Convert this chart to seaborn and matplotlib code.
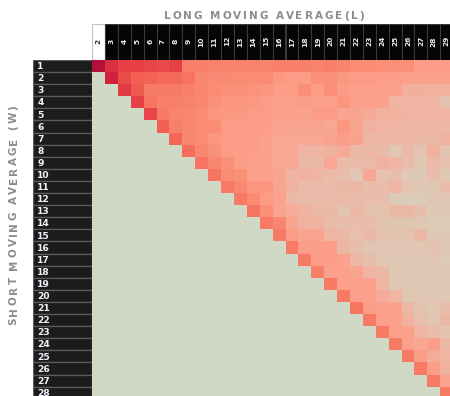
import numpy as np
import pandas as pd
import matplotlib
matplotlib.use("Agg")
import matplotlib.pyplot as plt
import seaborn as sns
from matplotlib.colors import LinearSegmentedColormap
from matplotlib.patches import Rectangle
from matplotlib.font_manager import FontProperties, findfont, get_font
from matplotlib.ft2font import LoadFlags

# Short moving-average window (rows) and long window (columns)
short_windows = list(range(1, 29))
long_windows = list(range(2, 30))

# Score per (W, L) pair, listed for L = W+1 .. 29 on each row
w1 = [99, 85, 80, 80, 78, 76, 80, 58, 58, 57, 57, 56, 57, 56, 58, 58, 58, 57, 58, 56, 52, 52, 51, 51, 51, 46, 46, 46]
w2 = [90, 75, 68, 67, 65, 65, 62, 54, 53, 53, 52, 52, 52, 47, 46, 46, 50, 51, 47, 46, 46, 45, 45, 44, 42, 42, 42]
w3 = [82, 70, 60, 60, 60, 58, 55, 52, 50, 50, 49, 48, 45, 45, 50, 46, 51, 46, 44, 44, 44, 44, 32, 32, 30, 30]
w4 = [80, 62, 58, 58, 57, 55, 50, 48, 48, 47, 46, 44, 44, 45, 44, 44, 48, 44, 44, 43, 28, 28, 28, 28, 15]
w5 = [78, 60, 56, 55, 52, 48, 47, 47, 46, 46, 42, 42, 42, 46, 46, 40, 40, 36, 30, 30, 28, 28, 28, 28]
w6 = [68, 58, 55, 52, 52, 46, 46, 45, 45, 40, 40, 40, 40, 38, 48, 40, 30, 28, 28, 26, 26, 26, 26]
w7 = [66, 55, 52, 48, 46, 46, 45, 44, 38, 38, 38, 38, 40, 45, 42, 26, 26, 26, 26, 25, 25, 30]
w8 = [64, 55, 50, 46, 45, 45, 44, 38, 38, 28, 28, 30, 36, 26, 26, 24, 10, 22, 14, 32, 14]
w9 = [62, 54, 50, 45, 44, 44, 38, 38, 26, 25, 38, 22, 22, 24, 30, 28, 22, 10, 22, 18]
w10 = [62, 52, 50, 44, 44, 40, 28, 30, 28, 22, 20, 10, 38, 16, 20, 8, 8, 20, 8]
w11 = [60, 54, 48, 48, 40, 30, 22, 22, 22, 25, 25, 20, 20, 28, 14, 10, 10, 22]
w12 = [60, 52, 46, 42, 25, 22, 22, 22, 22, 22, 20, 20, 5, 5, 5, 10, 10]
w13 = [62, 50, 40, 35, 30, 25, 25, 15, 25, 18, 15, 25, 25, 20, 8, 8]
w14 = [60, 55, 40, 30, 30, 22, 20, 20, 20, 15, 12, 12, 10, 5, 5]
w15 = [60, 45, 40, 40, 28, 25, 18, 25, 15, 15, 15, 25, 8, 8]
w16 = [60, 45, 45, 45, 25, 20, 12, 12, 12, 12, 10, 15, 10]
w17 = [60, 45, 45, 42, 25, 20, 10, 10, 10, 10, 10, 5]
w18 = [58, 44, 44, 40, 28, 25, 10, 10, 10, 10, 10]
w19 = [60, 44, 44, 44, 28, 10, 10, 10, 10, 10]
w20 = [60, 44, 44, 35, 28, 10, 10, 10, 10]
w21 = [62, 45, 42, 42, 25, 15, 10, 20]
w22 = [60, 44, 44, 30, 20, 12, 25]
w23 = [60, 44, 44, 28, 20, 15]
w24 = [60, 44, 38, 45, 25]
w25 = [60, 45, 35, 28]
w26 = [60, 45, 30]
w27 = [60, 40]
w28 = [60]

row_values = [w1, w2, w3, w4, w5, w6, w7, w8, w9, w10, w11, w12, w13, w14,
              w15, w16, w17, w18, w19, w20, w21, w22, w23, w24, w25, w26, w27, w28]

x_title = "LONG MOVING AVERAGE(L)"
y_title = "SHORT MOVING AVERAGE (W)"

grid = np.full((len(short_windows), len(long_windows)), np.nan)
for i, (w, vals) in enumerate(zip(short_windows, row_values)):
    start = long_windows.index(w + 1)
    grid[i, start:start + len(vals)] = vals
df = pd.DataFrame(grid, index=short_windows, columns=long_windows)

cmap = LinearSegmentedColormap.from_list("score", [
    (0.00, "#d8cfbc"), (0.05, "#dccbb8"), (0.15, "#e4c2b0"), (0.25, "#ecb8a6"),
    (0.35, "#f6aa98"), (0.44, "#fca08c"), (0.50, "#fb9078"), (0.58, "#f8806a"),
    (0.65, "#f46a58"), (0.70, "#ef5a4e"), (0.80, "#e64046"), (0.90, "#d0203c"),
    (1.00, "#b0103c")])

W, H = 450, 396
fig = plt.figure(figsize=(W / 100, H / 100), dpi=100)


def rect(left, top, width, height):
    return [left / W, 1 - (top + height) / H, width / W, height / H]


cell_w, cell_h = 12.9, 12.1
grid_left, grid_top = 92, 60
grid_w = cell_w * len(long_windows)
grid_h = cell_h * len(short_windows)

# Main heatmap
ax = fig.add_axes(rect(grid_left, grid_top, grid_w, grid_h))
sns.heatmap(df, ax=ax, cmap=cmap, vmin=0, vmax=100, cbar=False,
            mask=df.isna(), xticklabels=False, yticklabels=False)
ax.set_facecolor("#cfd9c6")
ax.set_xlabel("")
ax.set_ylabel("")
for s in ax.spines.values():
    s.set_visible(False)

# Row header band
axr = fig.add_axes(rect(33, grid_top, grid_left - 33, grid_h))
axr.set_xlim(0, 1)
axr.set_ylim(len(short_windows), 0)
axr.axis("off")
for i, w in enumerate(short_windows):
    axr.add_patch(Rectangle((0, i), 1, 1, facecolor="#1c1c1c",
                            edgecolor="#5c5c5c", linewidth=0.9))
    axr.text(0.07, i + 0.55, str(w), color="#eef2fa", fontweight="bold",
             fontsize=6.6, ha="left", va="center")

# Column header band
axc = fig.add_axes(rect(grid_left, 24, grid_w, grid_top - 24))
axc.set_xlim(0, len(long_windows))
axc.set_ylim(0, 1)
axc.axis("off")
for j, l in enumerate(long_windows):
    first = j == 0
    axc.add_patch(Rectangle((j, 0), 1, 1,
                            facecolor="white" if first else "#050505",
                            edgecolor="#c4c4c4" if first else "#3a3a3a",
                            linewidth=0.8))
    axc.text(j + 0.5, 0.52, str(l), color="#333333" if first else "#e8ecf4",
             fontweight="bold", fontsize=5.4, rotation=90,
             ha="center", va="center")


def spaced_text(s, start, end, fixed, size, vertical=False):
    """Draw a tracked (letter-spaced) caption between start and end pixels."""
    fp = FontProperties(family="DejaVu Sans", weight="bold", size=size)
    font = get_font(findfont(fp))
    font.set_size(size, 100)
    adv = []
    for ch in s:
        g = font.load_char(ord(ch), flags=LoadFlags.NO_HINTING)
        adv.append(g.linearHoriAdvance / 65536)
    track = ((end - start) - sum(adv)) / (len(s) - 1)
    pos = start
    for ch, a in zip(s, adv):
        c = pos + a / 2
        if ch != " ":
            if vertical:
                fig.text(fixed / W, 1 - c / H, ch, fontproperties=fp,
                         color="#8c8c8c", rotation=90,
                         ha="center", va="center")
            else:
                fig.text(c / W, 1 - fixed / H, ch, fontproperties=fp,
                         color="#8c8c8c", ha="center", va="center")
        pos += a + track


spaced_text(x_title, 164, 364, 16, 7.5)
# vertical caption reads bottom to top, so walk the string from its end
spaced_text(y_title[::-1], 105, 325, 13.5, 7.5, vertical=True)

fig.savefig("out.png", dpi=100)
